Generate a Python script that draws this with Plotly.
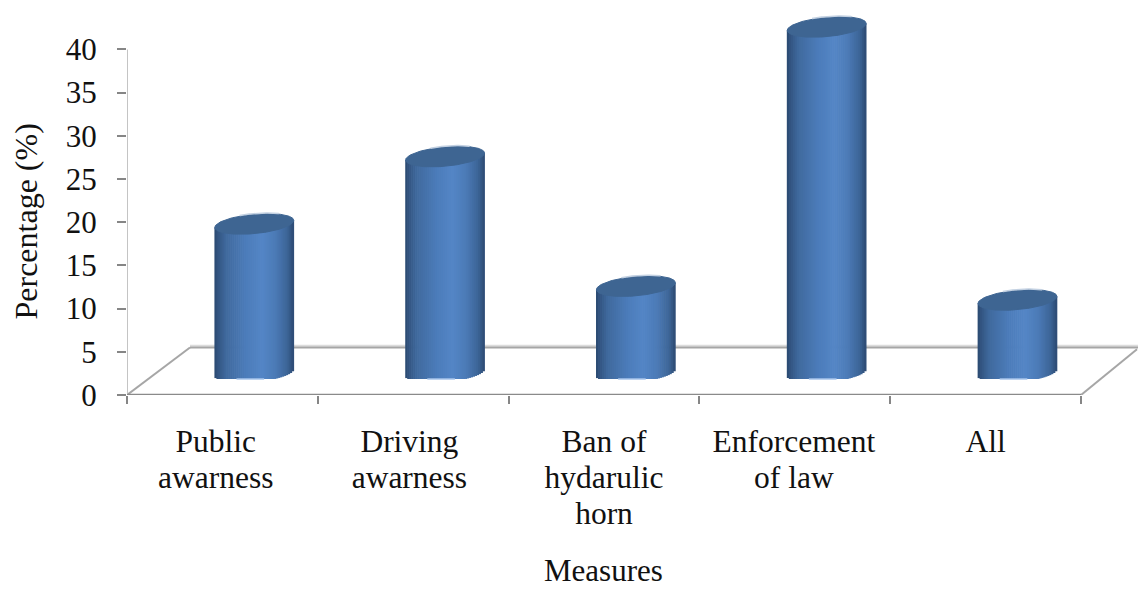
import numpy as np
import plotly.graph_objects as go

# Share of respondents choosing each measure
categories = ["Public<br>awarness", "Driving<br>awarness", "Ban of<br>hydarulic<br>horn", "Enforcement<br>of law", "All"]
values = [17.2, 25.0, 10.0, 40.0, 8.4]
y_ticks = [0, 5, 10, 15, 20, 25, 30, 35, 40]

PX_X = 190.8  # pixels per category
PX_Y = 8.64   # pixels per percentage point
WIDTH, HEIGHT = 1138, 589
LEFT, ZERO_Y = 127, 395

label_nudge = [-0.035, -0.02, 0.0, -0.005, 0.0]
depth_shift = 0.167
half_w = 39.5 / PX_X
semi_minor = 9.7 / PX_Y
tilt = 3.5 / PX_Y
base_level = 2.6
clip_level = 1.85
floor_back = 5.5
floor_left = 63 / PX_X
floor_right = 5 + 56 / PX_X

FONT = "Liberation Serif"
INK = "#111111"
DARK_TOP = "#3e6592"

# Horizontal shading across a cylinder, position in [-1, 1] -> colour
stops_u = np.array([-1.0, -0.92, -0.7, -0.2, 0.2, 0.55, 0.85, 1.0])
stops_rgb = np.array([
    [42, 72, 110], [50, 84, 128], [64, 106, 158], [76, 124, 186],
    [84, 134, 198], [75, 122, 182], [60, 100, 150], [44, 74, 114],
])


def shade(u):
    r, g, b = (np.interp(u, stops_u, stops_rgb[:, k]) for k in range(3))
    return f"rgb({r:.0f},{g:.0f},{b:.0f})"


centers = [i + 0.5 + depth_shift for i in range(len(categories))]
fig = go.Figure()

# Cylinder bodies: each vertical strip is one bar trace sharing the values
n_strips = 40
edges = np.linspace(-1, 1, n_strips + 1)
for lo, hi in zip(edges[:-1], edges[1:]):
    u = (lo + hi) / 2
    curve = np.sqrt(max(0.0, 1 - u * u))
    low = max(base_level + tilt * u - semi_minor * curve, clip_level)
    fig.add_trace(go.Bar(
        x=[c + u * half_w for c in centers],
        y=[v + base_level + tilt * u - low for v in values],
        base=[low] * len(values),
        width=(hi - lo) * half_w * 1.35,
        marker=dict(color=shade(u), line=dict(width=0)),
        hoverinfo="skip", showlegend=False,
    ))

# Top caps and their pale rim highlights
theta = np.linspace(0, 2 * np.pi, 121)
for c, v in zip(centers, values):
    top = v + base_level
    cu, su = np.cos(theta), np.sin(theta)
    fig.add_trace(go.Scatter(
        x=c + half_w * cu, y=top + tilt * cu + semi_minor * su,
        mode="lines", fill="toself", fillcolor=DARK_TOP,
        line=dict(color=DARK_TOP, width=1),
        hoverinfo="skip", showlegend=False,
    ))
    arc = np.linspace(0.9, 1.95, 30)
    ca, sa = np.cos(arc), np.sin(arc)
    fig.add_trace(go.Scatter(
        x=c + half_w * ca, y=top + tilt * ca + (semi_minor + 0.08) * sa,
        mode="lines", line=dict(color="#c3d1e2", width=1.5),
        hoverinfo="skip", showlegend=False,
    ))
    fig.add_trace(go.Scatter(
        x=[c - 0.45 * half_w, c + 0.25 * half_w], y=[clip_level, clip_level],
        mode="lines", line=dict(color="#a9c6ec", width=1.5),
        hoverinfo="skip", showlegend=False,
    ))


def seg(x0, y0, x1, y1, color, width):
    return dict(type="line", xref="x", yref="y", x0=x0, y0=y0, x1=x1, y1=y1,
                layer="below", line=dict(color=color, width=width))


x_max = (WIDTH - LEFT) / PX_X
y_max = ZERO_Y / PX_Y
shapes = [
    seg(floor_left, floor_back + 0.2, x_max, floor_back + 0.2, "#dcdcdc", 2),
    seg(floor_left, floor_back, x_max, floor_back, "#a6a6a6", 2),
    seg(0, 0, floor_left, floor_back, "#a6a6a6", 2),
    seg(5, 0, floor_right, floor_back - 0.2, "#a6a6a6", 2),
    seg(0, 0, 0, 40, "#c4c4c4", 2),
    seg(0, 0, 5, 0, "#8a8a8a", 2.5),
]

# Line pitch follows the tick font size; the glyphs are set a little larger
tick_text = ["<br>".join(f'<span style="font-size:31.5px">{p}</span>' for p in c.split("<br>"))
             for c in categories]

fig.update_layout(
    width=WIDTH, height=HEIGHT,
    margin=dict(l=LEFT, r=0, t=0, b=HEIGHT - ZERO_Y, pad=0),
    paper_bgcolor="white", plot_bgcolor="white",
    barmode="overlay", showlegend=False, shapes=shapes,
    xaxis=dict(
        range=[0, x_max], showgrid=False, zeroline=False, showline=False,
        tickmode="array",
        tickvals=[i + 0.5 + n for i, n in enumerate(label_nudge)],
        ticktext=tick_text, ticks="", tickangle=0, ticklabelstandoff=28,
        tickfont=dict(family=FONT, size=27.7, color=INK),
        minor=dict(tickmode="array", tickvals=list(range(6)), ticks="outside",
                   ticklen=8, tickwidth=2, tickcolor="#868686", showgrid=False),
    ),
    yaxis=dict(
        range=[0, y_max], showgrid=False, zeroline=False, showline=False,
        tickmode="array", tickvals=y_ticks, ticktext=[str(t) for t in y_ticks],
        ticks="outside", ticklen=9, tickwidth=2, tickcolor="#868686",
        ticklabelstandoff=14,
        tickfont=dict(family=FONT, size=31, color=INK),
    ),
    annotations=[
        dict(text="Measures", xref="x", yref="paper",
             x=(603 - LEFT) / PX_X, y=(ZERO_Y - 570) / ZERO_Y,
             showarrow=False, xanchor="center", yanchor="middle",
             font=dict(family=FONT, size=31, color=INK)),
        dict(text="Percentage (%)", xref="paper", yref="y",
             x=(25 - LEFT) / (WIDTH - LEFT), y=(ZERO_Y - 221.5) / PX_Y, textangle=-90,
             showarrow=False, xanchor="center", yanchor="middle",
             font=dict(family=FONT, size=32, color=INK)),
    ],
)

fig.write_html("out.html", config=dict(displayModeBar=False))
